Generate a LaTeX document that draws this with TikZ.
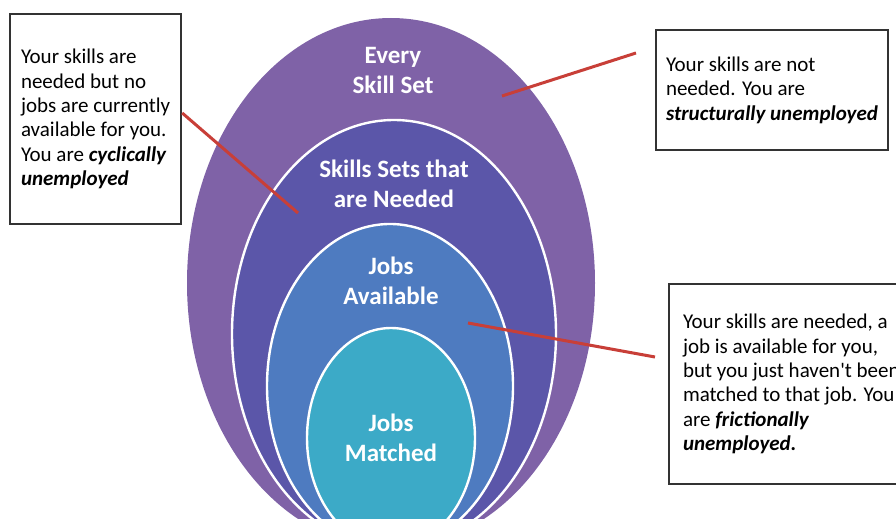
\documentclass[tikz,border=0pt]{standalone}
\usepackage{fontspec}
\setmainfont[Ligatures=TeXOff]{Carlito}
\usetikzlibrary{shapes.geometric}
\definecolor{setpurple}{HTML}{7F62A7}
\definecolor{needblue}{HTML}{5B56A9}
\definecolor{availblue}{HTML}{4E7BC0}
\definecolor{matchcyan}{HTML}{3CAAC7}
\definecolor{linered}{HTML}{C83F38}
\tikzset{
  ring/.style={ellipse, inner sep=0pt, draw=white, line width=1.2pt},
  tag/.style={text=white, align=center, font=\fontsize{12.5}{15}\selectfont\bfseries},
  note/.style={rectangle, draw=black!80, line width=1pt, fill=white, align=left,
    anchor=north west, inner ysep=0pt, font=\fontsize{10.5}{12.2}\selectfont},
  pointer/.style={draw=linered, line width=1.5pt},
}

\begin{document}
\begin{tikzpicture}[x=0.5pt, y=-0.5pt]
    \useasboundingbox (0,0) rectangle (896,519);
    \clip (0,0) rectangle (896,519);
    % nested sets
    \node[ring, draw=none, fill=setpurple, minimum width=204pt, minimum height=265pt] (skillset) at (391,283) {};
    \node[ring, fill=needblue, minimum width=162pt, minimum height=214pt] (needed) at (394,334) {};
    \node[ring, fill=availblue, minimum width=123pt, minimum height=162pt] (available) at (390,386) {};
    \node[ring, fill=matchcyan, minimum width=84pt, minimum height=110pt] (matched) at (391,438) {};
    \node[tag] (skillsettag) at (393,70) {Every\\Skill Set};
    \node[tag] (neededtag) at (394,184) {Skills Sets that\\are Needed};
    \node[tag] (availabletag) at (391,281) {Jobs\\Available};
    \node[tag] (matchedtag) at (391,438) {Jobs\\Matched};
    % explanation boxes
    \node[note, inner xsep=5.5pt, minimum height=105pt] (cyclical) at (9,13)
      {Your skills are\\needed but no\\jobs are currently\\available for you.\\You are \textbf{\textit{cyclically}}\\\textbf{\textit{unemployed}}};
    \node[note, inner xsep=5pt, minimum height=60pt] (structural) at (655,29)
      {Your skills are not\\needed. You are\\\textbf{\textit{structurally unemployed}}};
    \node[note, inner xsep=7pt, minimum height=100pt] (frictional) at (668,283)
      {Your skills are needed, a\\job is available for you,\\but you just haven't been\\matched to that job. You\\are \textbf{\textit{frictionally}}\\\textbf{\textit{unemployed.}}};
    \coordinate (cyclicalpt) at (298,213);
    \coordinate (structpt) at (502,96);
    \coordinate (structend) at (636,53);
    \coordinate (frictpt) at (468,323);
    \coordinate (frictend) at (655,357);
    \draw[pointer] ([yshift=3pt]cyclical.east) -- (cyclicalpt);
    \draw[pointer] (structpt) -- (structend);
    \draw[pointer] (frictpt) -- (frictend);
\end{tikzpicture}
\end{document}
